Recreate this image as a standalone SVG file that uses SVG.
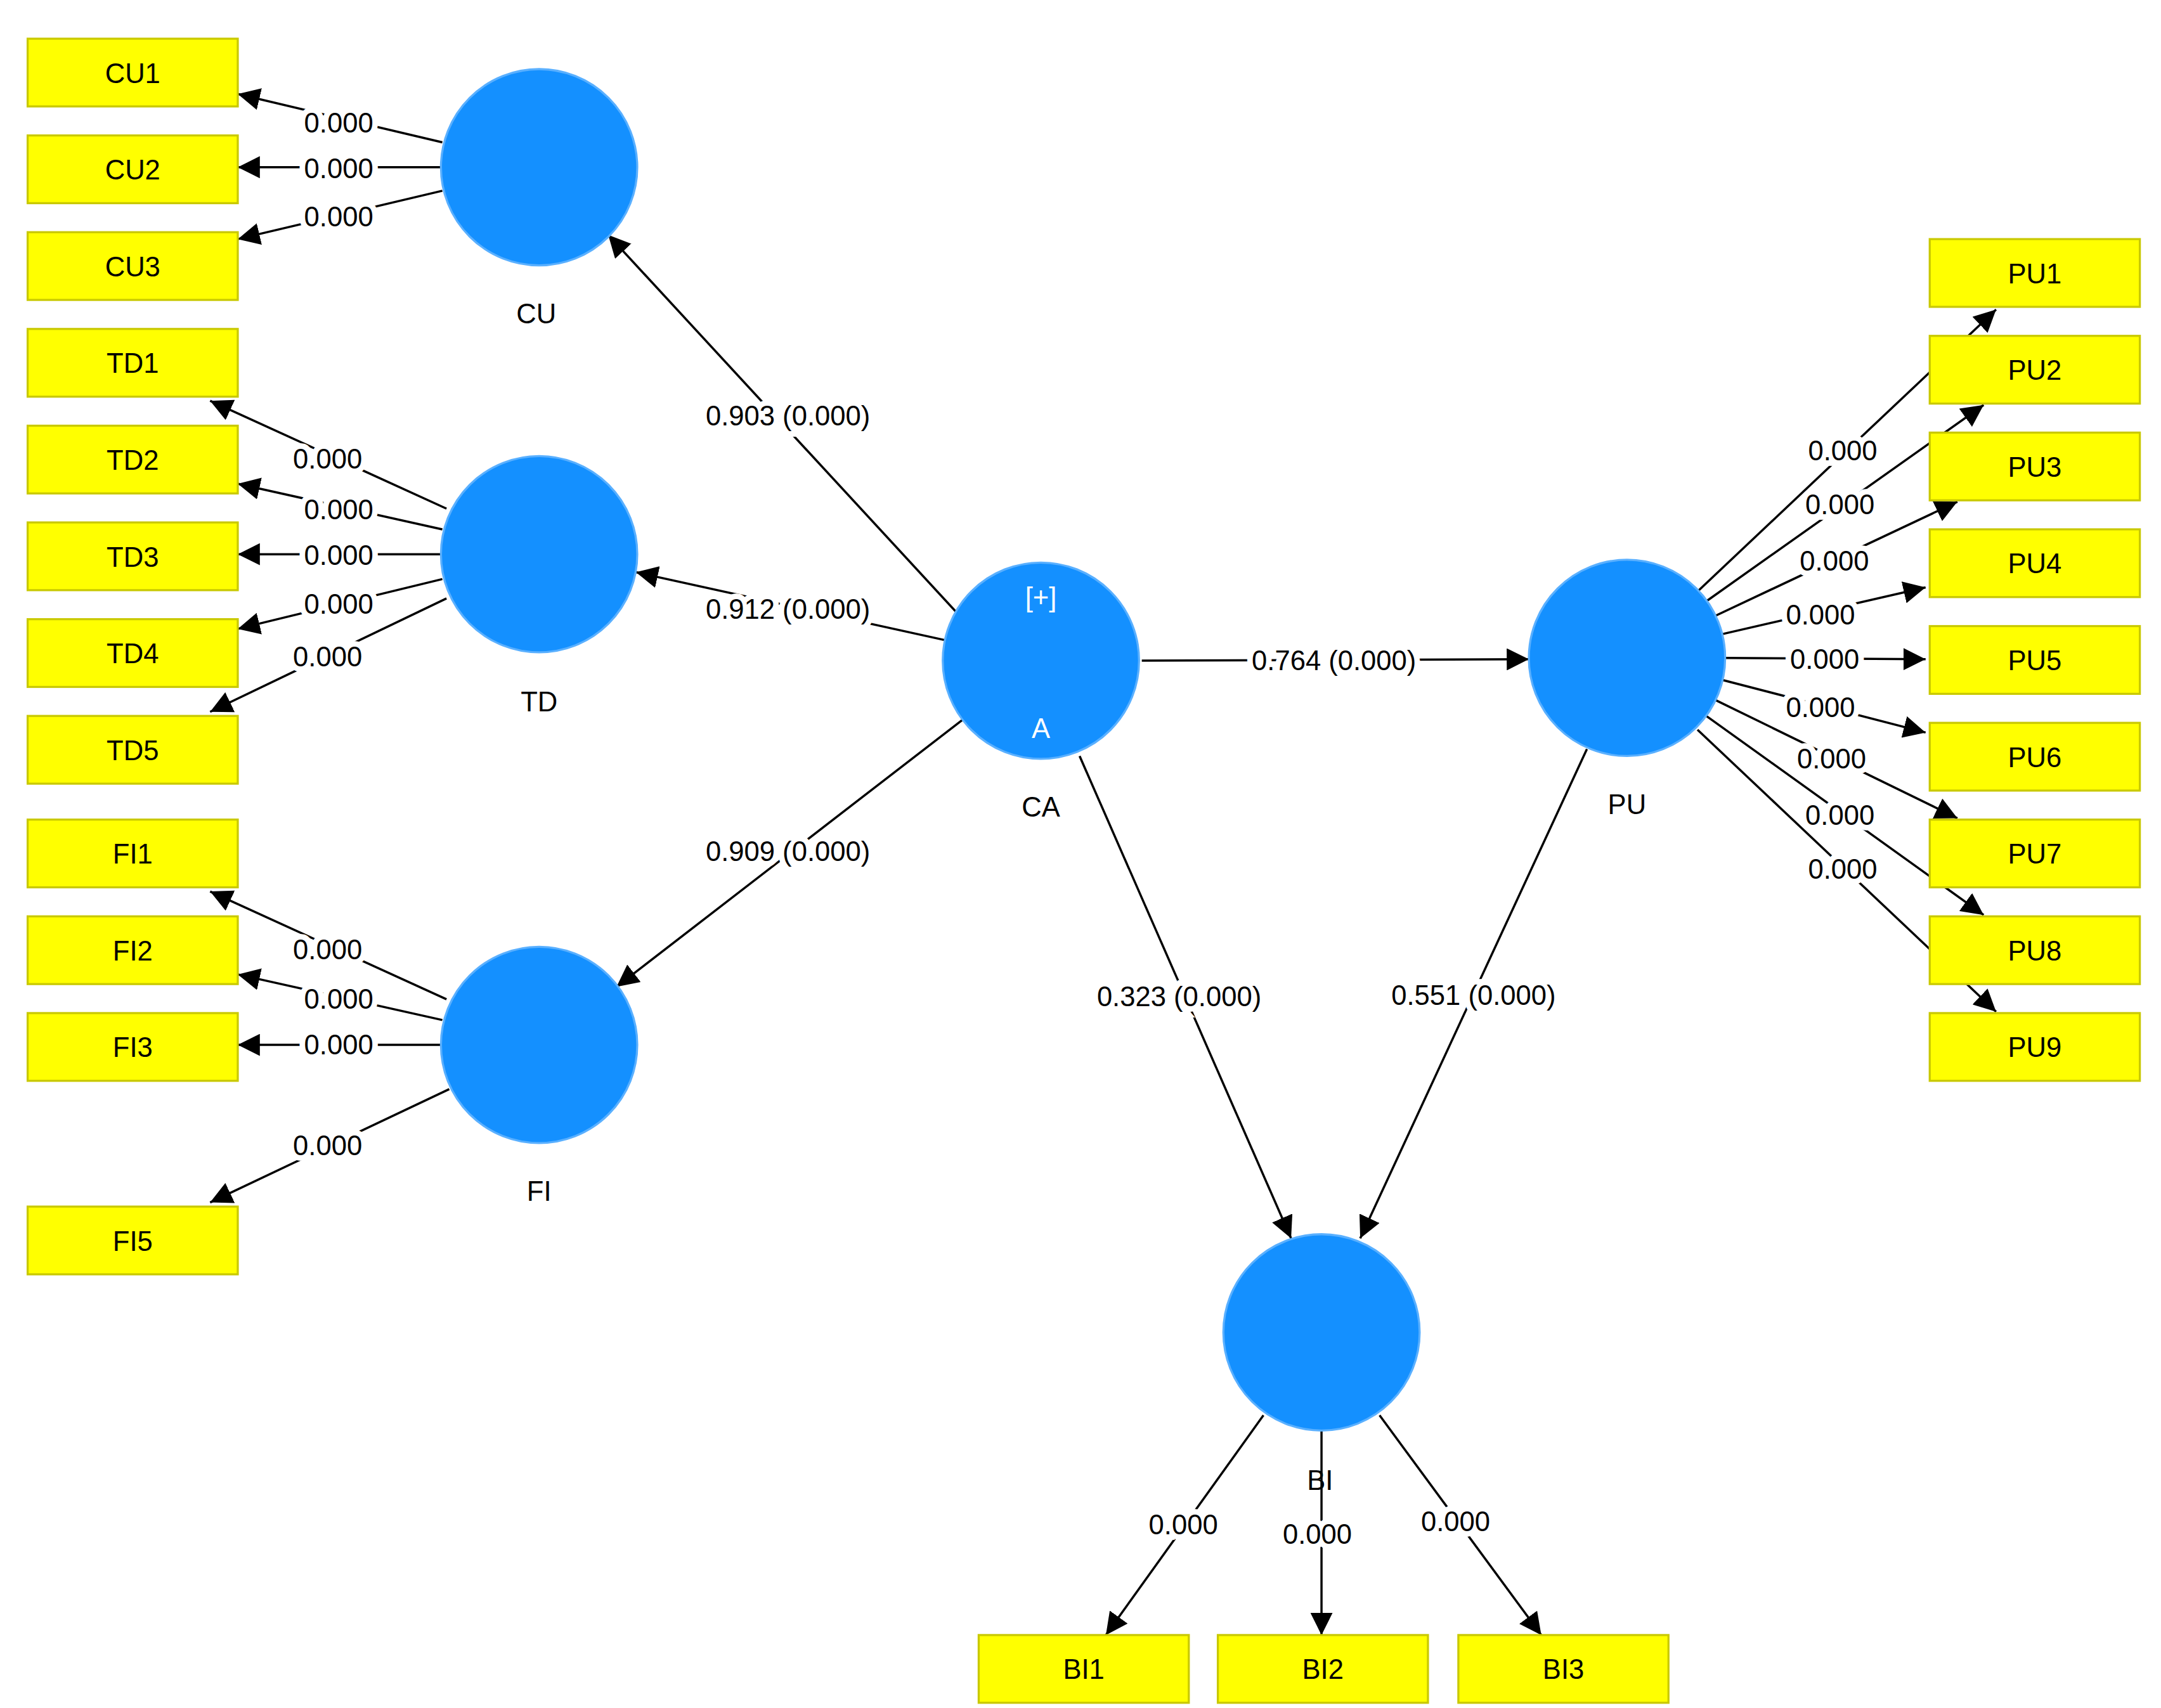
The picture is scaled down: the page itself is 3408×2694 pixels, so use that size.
<svg xmlns="http://www.w3.org/2000/svg" width="3408" height="2694" viewBox="0 0 3408 2694">
<defs>
<marker id="ah" markerUnits="userSpaceOnUse" markerWidth="18" markerHeight="16" refX="16" refY="8" orient="auto"><path d="M0,0 L16,8 L0,16 z" fill="#000"/></marker>
<style>
.box rect{fill:#ffff00;stroke:#c9c900;stroke-width:1.5}
.box text,.nl{font-family:"Liberation Sans",Arial,sans-serif;font-size:20px;text-anchor:middle;dominant-baseline:central;fill:#000}
.lv circle{fill:#1490ff;stroke:#5ab0ff;stroke-width:1.5}
.wt{font-family:"Liberation Sans",Arial,sans-serif;font-size:20px;text-anchor:middle;dominant-baseline:central;fill:#fff}
.e line{stroke:#000;stroke-width:1.6;marker-end:url(#ah)}
.el{font-family:"Liberation Sans",Arial,sans-serif;font-size:20px;text-anchor:middle;dominant-baseline:central;fill:#000;stroke:#fff;stroke-width:8;paint-order:stroke}
</style>
</defs>
<rect width="3408" height="2694" fill="#fff"/>
<g transform="scale(2.18)">
<g id="connectors" class="e">
<line x1="320" y1="103" x2="172" y2="68"/><line x1="320" y1="121" x2="172" y2="121"/><line x1="320" y1="138" x2="172" y2="173"/>
<line x1="323" y1="368" x2="152" y2="290"/><line x1="320" y1="383" x2="172" y2="350"/><line x1="320" y1="401" x2="172" y2="401"/><line x1="320" y1="419" x2="172" y2="455"/><line x1="323" y1="433" x2="152" y2="515"/>
<line x1="323" y1="723" x2="152" y2="645"/><line x1="320" y1="738" x2="172" y2="705"/><line x1="320" y1="756" x2="172" y2="756"/><line x1="325" y1="788" x2="152" y2="870"/>
<line x1="1228" y1="428" x2="1444" y2="224"/><line x1="1233" y1="436" x2="1435" y2="293"/><line x1="1240" y1="446" x2="1416" y2="363"/><line x1="1245" y1="459" x2="1393" y2="425"/><line x1="1248" y1="476" x2="1393" y2="477"/><line x1="1246" y1="492" x2="1393" y2="530"/><line x1="1240" y1="506" x2="1416" y2="592"/><line x1="1233" y1="517" x2="1435" y2="662"/><line x1="1228" y1="528" x2="1444" y2="732"/>
<line x1="703" y1="455" x2="440" y2="170"/><line x1="683" y1="463" x2="460" y2="414"/><line x1="696" y1="521" x2="446" y2="714"/><line x1="826" y1="478" x2="1106" y2="477"/><line x1="781" y1="547" x2="934" y2="896"/><line x1="1148" y1="542" x2="984" y2="896"/>
<line x1="914" y1="1024" x2="800" y2="1183"/><line x1="956" y1="1035" x2="956" y2="1183"/><line x1="998" y1="1024" x2="1115" y2="1183"/>
<g>
<text class="el" x="245" y="89">0.000</text><text class="el" x="245" y="122">0.000</text><text class="el" x="245" y="157">0.000</text>
<text class="el" x="237" y="332">0.000</text><text class="el" x="245" y="369">0.000</text><text class="el" x="245" y="402">0.000</text><text class="el" x="245" y="437">0.000</text><text class="el" x="237" y="475">0.000</text>
<text class="el" x="237" y="687">0.000</text><text class="el" x="245" y="723">0.000</text><text class="el" x="245" y="756">0.000</text><text class="el" x="237" y="829">0.000</text>
<text class="el" x="1333" y="326">0.000</text><text class="el" x="1331" y="365">0.000</text><text class="el" x="1327" y="406">0.000</text><text class="el" x="1317" y="445">0.000</text><text class="el" x="1320" y="477">0.000</text><text class="el" x="1317" y="512">0.000</text><text class="el" x="1325" y="549">0.000</text><text class="el" x="1331" y="590">0.000</text><text class="el" x="1333" y="629">0.000</text>
<text class="el" x="570" y="301">0.903 (0.000)</text><text class="el" x="570" y="441">0.912 (0.000)</text><text class="el" x="570" y="616">0.909 (0.000)</text><text class="el" x="965" y="478">0.764 (0.000)</text><text class="el" x="853" y="721">0.323 (0.000)</text><text class="el" x="1066" y="720">0.551 (0.000)</text>
<text class="el" x="856" y="1103">0.000</text><text class="el" x="953" y="1110">0.000</text><text class="el" x="1053" y="1101">0.000</text>
</g>
</g>
<g id="CU" class="lv"><circle cx="390" cy="121" r="71"/><text class="nl" x="388" y="227">CU</text></g>
<g id="TD" class="lv"><circle cx="390" cy="401" r="71"/><text class="nl" x="390" y="508">TD</text></g>
<g id="FI" class="lv"><circle cx="390" cy="756" r="71"/><text class="nl" x="390" y="862">FI</text></g>
<g id="CA" class="lv"><circle cx="753" cy="478" r="71"/><text class="wt" x="753" y="432">[+]</text><text class="wt" x="753" y="527">A</text><text class="nl" x="753" y="584">CA</text></g>
<g id="PU" class="lv"><circle cx="1177" cy="476" r="71"/><text class="nl" x="1177" y="582">PU</text></g>
<g id="BI" class="lv"><circle cx="956" cy="964" r="71"/><text class="nl" x="955" y="1071">BI</text></g>
<g id="CU1" class="box"><rect x="20" y="28" width="152" height="49"/><text x="96" y="53">CU1</text></g>
<g id="CU2" class="box"><rect x="20" y="98" width="152" height="49"/><text x="96" y="123">CU2</text></g>
<g id="CU3" class="box"><rect x="20" y="168" width="152" height="49"/><text x="96" y="193">CU3</text></g>
<g id="TD1" class="box"><rect x="20" y="238" width="152" height="49"/><text x="96" y="263">TD1</text></g>
<g id="TD2" class="box"><rect x="20" y="308" width="152" height="49"/><text x="96" y="333">TD2</text></g>
<g id="TD3" class="box"><rect x="20" y="378" width="152" height="49"/><text x="96" y="403">TD3</text></g>
<g id="TD4" class="box"><rect x="20" y="448" width="152" height="49"/><text x="96" y="473">TD4</text></g>
<g id="TD5" class="box"><rect x="20" y="518" width="152" height="49"/><text x="96" y="543">TD5</text></g>
<g id="FI1" class="box"><rect x="20" y="593" width="152" height="49"/><text x="96" y="618">FI1</text></g>
<g id="FI2" class="box"><rect x="20" y="663" width="152" height="49"/><text x="96" y="688">FI2</text></g>
<g id="FI3" class="box"><rect x="20" y="733" width="152" height="49"/><text x="96" y="758">FI3</text></g>
<g id="FI5" class="box"><rect x="20" y="873" width="152" height="49"/><text x="96" y="898">FI5</text></g>
<g id="PU1" class="box"><rect x="1396" y="173" width="152" height="49"/><text x="1472" y="198">PU1</text></g>
<g id="PU2" class="box"><rect x="1396" y="243" width="152" height="49"/><text x="1472" y="268">PU2</text></g>
<g id="PU3" class="box"><rect x="1396" y="313" width="152" height="49"/><text x="1472" y="338">PU3</text></g>
<g id="PU4" class="box"><rect x="1396" y="383" width="152" height="49"/><text x="1472" y="408">PU4</text></g>
<g id="PU5" class="box"><rect x="1396" y="453" width="152" height="49"/><text x="1472" y="478">PU5</text></g>
<g id="PU6" class="box"><rect x="1396" y="523" width="152" height="49"/><text x="1472" y="548">PU6</text></g>
<g id="PU7" class="box"><rect x="1396" y="593" width="152" height="49"/><text x="1472" y="618">PU7</text></g>
<g id="PU8" class="box"><rect x="1396" y="663" width="152" height="49"/><text x="1472" y="688">PU8</text></g>
<g id="PU9" class="box"><rect x="1396" y="733" width="152" height="49"/><text x="1472" y="758">PU9</text></g>
<g id="BI1" class="box"><rect x="708" y="1183" width="152" height="49"/><text x="784" y="1208">BI1</text></g>
<g id="BI2" class="box"><rect x="881" y="1183" width="152" height="49"/><text x="957" y="1208">BI2</text></g>
<g id="BI3" class="box"><rect x="1055" y="1183" width="152" height="49"/><text x="1131" y="1208">BI3</text></g>
</g>
</svg>
